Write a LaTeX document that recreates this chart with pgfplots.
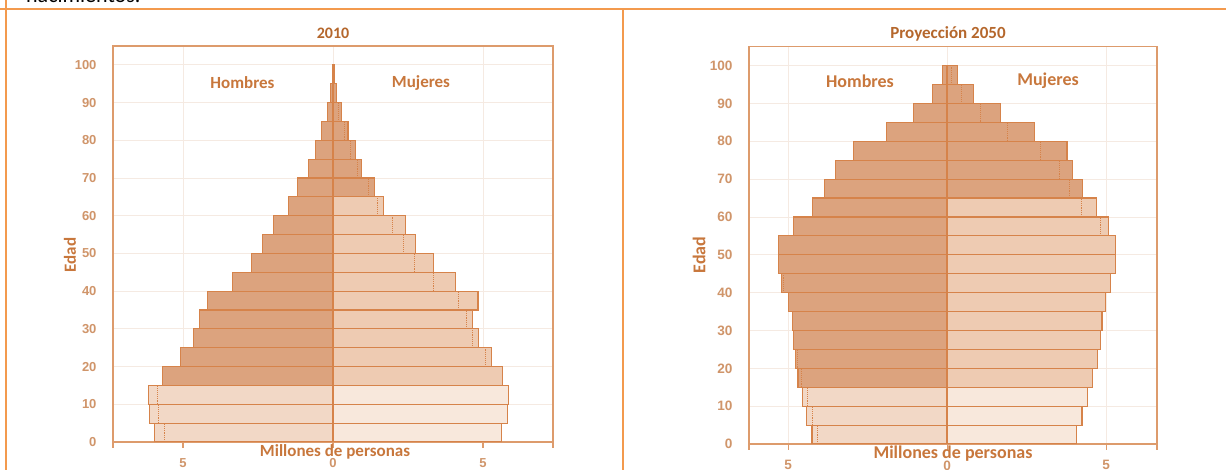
\documentclass[border=0pt]{standalone}
\usepackage{pgfplots}
\pgfplotsset{compat=1.18}
\usepackage{fontspec}
\setmainfont{Carlito}
\newfontfamily\tickfont{Liberation Sans}
\definecolor{frameor}{HTML}{F39A4E}
\definecolor{axor}{HTML}{DD9B6C}
\definecolor{barline}{HTML}{D6834A}
\definecolor{darkf}{HTML}{DCA37E}
\definecolor{mediumf}{HTML}{EECBB2}
\definecolor{lightm}{HTML}{F2D8C6}
\definecolor{lightw}{HTML}{F8E8DC}
\definecolor{titlec}{HTML}{B5672C}
\definecolor{labc}{HTML}{C8773C}
\definecolor{tickc}{HTML}{D0956A}
\definecolor{gridc}{HTML}{F5EAE2}

\pgfplotsset{
  pyr/.style={
    scale only axis,
    ymin=0, ymax=105,
    ytick={0,10,...,100},
    grid=major, grid style={gridc, line width=0.8pt},
    axis line style={axor, line width=1.3pt},
    xtick align=outside,
    xtick pos=bottom,
    major tick length=6pt,
    tick style={axor, line width=1.2pt},
    ytick style={draw=none},
    /pgf/number format/assume math mode=true,
    yticklabel style={font=\tickfont\bfseries\fontsize{#1}{#1}\selectfont, text=tickc, xshift=-13pt},
    xticklabel style={font=\tickfont\bfseries\fontsize{#1}{#1}\selectfont, text=tickc, yshift=-7pt},
    bar width=5,
    unbounded coords=jump,
  },
  pbar/.style={xbar, bar shift=0pt, draw=barline, line width=1.1pt, fill=#1},
  pdot/.style={sharp plot, no marks, barline, densely dotted, line width=0.9pt},
  pcen/.style={sharp plot, no marks, barline, line width=1.7pt},
}

\begin{document}
\begin{tikzpicture}[x=1pt,y=1pt]
\useasboundingbox (0,0) rectangle (1226,470);
\fill[white] (0,0) rectangle (1226,470);
\node[anchor=base west, inner sep=0pt, font=\fontsize{22}{22}\selectfont] at (26,467.5) {nacimientos.};
\draw[frameor, line width=2.5pt] (0,461) -- (1226,461);
\draw[frameor, line width=2.5pt] (6,475) -- (6,-5);
\draw[frameor, line width=2.3pt] (622.7,461) -- (622.7,-5);

% ---------------- 2010 ----------------
\begin{axis}[pyr=13, at={(113pt,28pt)}, anchor=south west,
  width=440pt, height=396pt, xmin=-7.33, xmax=7.33,
  xtick={-7.33,-5,0,5,7.33}, xticklabels={,5,0,5,}]
% men 15+
\addplot[pbar=darkf] coordinates {
(-5.69,17.5) (-5.07,22.5) (-4.66,27.5) (-4.46,32.5) (-4.18,37.5) (-3.36,42.5)
(-2.73,47.5) (-2.36,52.5) (-1.99,57.5) (-1.47,62.5) (-1.18,67.5) (-0.82,72.5)
(-0.58,77.5) (-0.38,82.5) (-0.19,87.5) (-0.09,92.5) (-0.03,97.5)};
% men 0-14
\addplot[pbar=lightm] coordinates {(-5.96,2.5) (-6.10,7.5) (-6.16,12.5)};
% women 65+
\addplot[pbar=darkf] coordinates {
(1.38,67.5) (0.95,72.5) (0.75,77.5) (0.50,82.5) (0.28,87.5) (0.12,92.5) (0.05,97.5)};
% women 15-64
\addplot[pbar=mediumf] coordinates {
(5.66,17.5) (5.28,22.5) (4.86,27.5) (4.66,32.5) (4.83,37.5) (4.08,42.5)
(3.36,47.5) (2.75,52.5) (2.42,57.5) (1.67,62.5)};
% women 0-14
\addplot[pbar=lightw] coordinates {(5.62,2.5) (5.80,7.5) (5.84,12.5)};
% dotted comparison lines
\addplot[pdot] coordinates {
(-5.62,0) (-5.62,5) (nan,nan) (-5.80,5) (-5.80,10) (nan,nan) (-5.84,10) (-5.84,15) (nan,nan)
(5.07,20) (5.07,25) (nan,nan) (4.66,25) (4.66,30) (nan,nan) (4.46,30) (4.46,35) (nan,nan)
(4.18,35) (4.18,40) (nan,nan) (3.36,40) (3.36,45) (nan,nan) (2.73,45) (2.73,50) (nan,nan)
(2.36,50) (2.36,55) (nan,nan) (1.99,55) (1.99,60) (nan,nan) (1.47,60) (1.47,65) (nan,nan)
(1.18,65) (1.18,70) (nan,nan) (0.82,70) (0.82,75) (nan,nan) (0.58,75) (0.58,80) (nan,nan)
(0.38,80) (0.38,85) (nan,nan) (0.19,85) (0.19,90)};
\addplot[pcen] coordinates {(0,0) (0,100)};
\end{axis}

% ---------------- 2050 ----------------
\begin{axis}[pyr=13.6, at={(749pt,26pt)}, anchor=south west,
  width=408pt, height=397.3pt, xmin=-6.23, xmax=6.6,
  xtick={-6.23,-5,0,5,6.6}, xticklabels={,5,0,5,}]
% men 15+
\addplot[pbar=darkf] coordinates {
(-4.69,17.5) (-4.77,22.5) (-4.83,27.5) (-4.85,32.5) (-5.00,37.5) (-5.21,42.5)
(-5.30,47.5) (-5.30,52.5) (-4.82,57.5) (-4.22,62.5) (-3.85,67.5) (-3.52,72.5)
(-2.94,77.5) (-1.91,82.5) (-1.05,87.5) (-0.45,92.5) (-0.15,97.5)};
% men 0-14
\addplot[pbar=lightm] coordinates {(-4.25,2.5) (-4.41,7.5) (-4.55,12.5)};
% women 65+
\addplot[pbar=darkf] coordinates {
(4.25,67.5) (3.94,72.5) (3.77,77.5) (2.75,82.5) (1.68,87.5) (0.83,92.5) (0.34,97.5)};
% women 15-64
\addplot[pbar=mediumf] coordinates {
(4.57,17.5) (4.72,22.5) (4.82,27.5) (4.87,32.5) (4.98,37.5) (5.14,42.5)
(5.29,47.5) (5.30,52.5) (5.08,57.5) (4.69,62.5)};
% women 0-14
\addplot[pbar=lightw] coordinates {(4.08,2.5) (4.24,7.5) (4.40,12.5)};
% dotted comparison lines
\addplot[pdot] coordinates {
(-4.08,0) (-4.08,5) (nan,nan) (-4.24,5) (-4.24,10) (nan,nan) (-4.40,10) (-4.40,15) (nan,nan)
(-4.57,15) (-4.57,20) (nan,nan) (-4.72,20) (-4.72,25) (nan,nan) (-5.14,40) (-5.14,45) (nan,nan)
(4.82,55) (4.82,60) (nan,nan) (4.22,60) (4.22,65) (nan,nan) (3.85,65) (3.85,70) (nan,nan)
(3.52,70) (3.52,75) (nan,nan) (2.94,75) (2.94,80) (nan,nan) (1.91,80) (1.91,85) (nan,nan)
(1.05,85) (1.05,90) (nan,nan) (0.45,90) (0.45,95) (nan,nan) (0.15,95) (0.15,100)};
\addplot[pcen] coordinates {(0,0) (0,100)};
\end{axis}

% ---------------- labels ----------------
\node[font=\bfseries\fontsize{16}{16}\selectfont, text=titlec] at (333,436.5) {2010};
\node[font=\bfseries\fontsize{17}{17}\selectfont, text=titlec] at (948,436.5) {Proyección 2050};
\node[font=\bfseries\fontsize{17}{17}\selectfont, text=labc] at (242.5,387) {Hombres};
\node[font=\bfseries\fontsize{17}{17}\selectfont, text=labc] at (421,387) {Mujeres};
\node[font=\bfseries\fontsize{18}{18}\selectfont, text=labc] at (860,389) {Hombres};
\node[font=\bfseries\fontsize{18}{18}\selectfont, text=labc] at (1048,389) {Mujeres};
\node[rotate=90, font=\bfseries\fontsize{17}{17}\selectfont, text=labc] at (70,215) {Edad};
\node[rotate=90, font=\bfseries\fontsize{18}{18}\selectfont, text=labc] at (699,215) {Edad};
\node[anchor=base, inner sep=0pt, font=\bfseries\fontsize{17}{17}\selectfont, text=labc] at (335,13) {Millones de personas};
\node[anchor=base, inner sep=0pt, font=\bfseries\fontsize{18}{18}\selectfont, text=labc] at (953,11) {Millones de personas};
\end{tikzpicture}
\end{document}
